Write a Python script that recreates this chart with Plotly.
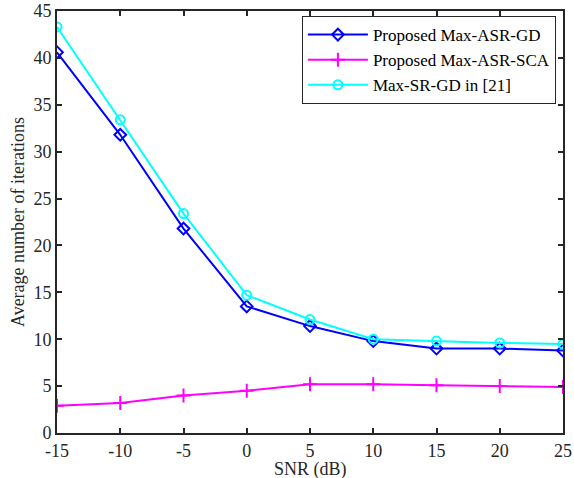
import plotly.graph_objects as go

snr = [-15, -10, -5, 0, 5, 10, 15, 20, 25]
gd = [40.6, 31.8, 21.8, 13.5, 11.4, 9.8, 9.0, 9.0, 8.8]
sca = [2.9, 3.2, 4.0, 4.5, 5.2, 5.2, 5.1, 5.0, 4.9]
srgd = [43.3, 33.4, 23.4, 14.7, 12.1, 10.0, 9.8, 9.6, 9.5]

fig = go.Figure()
fig.add_trace(go.Scatter(x=snr, y=gd, mode="lines+markers", name="Proposed Max-ASR-GD",
                         line=dict(color="#0000ff", width=2),
                         marker=dict(symbol="diamond-open", size=9, color="#0000ff", line=dict(width=2))))
fig.add_trace(go.Scatter(x=snr, y=sca, mode="lines+markers", name="Proposed Max-ASR-SCA",
                         line=dict(color="#ff00ff", width=2),
                         marker=dict(symbol="cross-thin-open", size=10, color="#ff00ff", line=dict(width=2, color="#ff00ff"))))
fig.add_trace(go.Scatter(x=snr, y=srgd, mode="lines+markers", name="Max-SR-GD in [21]",
                         line=dict(color="#00ffff", width=2),
                         marker=dict(symbol="circle-open", size=9, color="#00ffff", line=dict(width=2))))

axis_common = dict(showline=True, linecolor="#262626", linewidth=2, mirror="ticks",
                   ticks="inside", ticklen=5, tickwidth=1.5, tickcolor="#262626",
                   showgrid=False, zeroline=False, automargin=False,
                   tickfont=dict(family="Liberation Serif", size=18, color="#262626"))

fig.update_layout(
    width=574, height=478,
    margin=dict(l=57, r=11, t=11, b=45),
    paper_bgcolor="white", plot_bgcolor="white",
    font=dict(family="Liberation Serif", size=18, color="#262626"),
    xaxis=dict(range=[-15, 25], tickvals=snr, ticktext=[str(v) for v in snr], **axis_common),
    yaxis=dict(range=[0, 45], dtick=5, **axis_common),
    legend=dict(x=0.986, y=0.988, xanchor="right", yanchor="top",
                bordercolor="#262626", borderwidth=1, bgcolor="white",
                font=dict(family="Liberation Serif", size=17, color="black"),
                tracegroupgap=0, itemwidth=60),
    showlegend=True,
    annotations=[
        dict(text="SNR (dB)", xref="paper", yref="paper", x=0.5, y=-0.087,
             xanchor="center", yanchor="middle", showarrow=False,
             font=dict(family="Liberation Serif", size=18, color="#262626")),
        dict(text="Average number of iterations", xref="paper", yref="paper", x=-0.077, y=0.5,
             xanchor="center", yanchor="middle", showarrow=False, textangle=-90,
             font=dict(family="Liberation Serif", size=18, color="#262626")),
    ],
)

fig.write_html("out.html")
